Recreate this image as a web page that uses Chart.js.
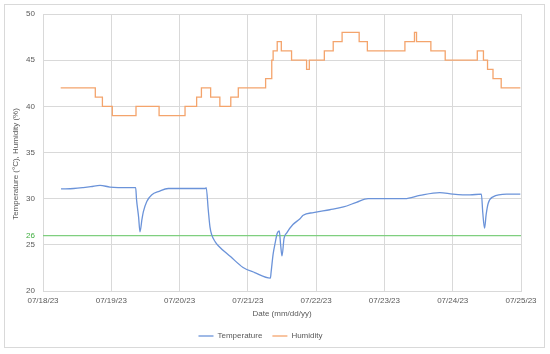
<!DOCTYPE html>
<html>
<head>
<meta charset="utf-8">
<script src="https://cdn.jsdelivr.net/npm/chart.js@4"></script>
<style>
  body { margin: 0; background: #fff; }
</style>
</head>
<body>
<canvas id="chart" width="550" height="354"></canvas>
<script>
// days since 07/18/23 00:00
const dateLabels = ["07/18/23", "07/19/23", "07/20/23", "07/21/23", "07/22/23", "07/23/23", "07/24/23", "07/25/23"];

const tempDays = [0.264, 0.45, 0.59, 0.70, 0.835, 0.98, 1.10, 1.357, 1.37, 1.40, 1.42, 1.45, 1.47, 1.52, 1.59, 1.70, 1.835,
  2.10, 2.38, 2.39, 2.42, 2.445, 2.47, 2.52, 2.567, 2.75, 2.93, 3.10, 3.33, 3.34, 3.37, 3.40, 3.43, 3.46, 3.48, 3.50,
  3.53, 3.57, 3.66, 3.76, 3.81, 3.96, 4.20, 4.40, 4.59, 4.76, 5.30, 5.52, 5.81, 6.00, 6.25, 6.42, 6.44, 6.466, 6.49,
  6.52, 6.59, 6.79, 6.99];
const tempValues = [31.05, 31.1, 31.2, 31.3, 31.45, 31.25, 31.2, 31.2, 29.9, 28.0, 26.4, 27.8, 28.6, 29.7, 30.4, 30.8, 31.1,
  31.1, 31.1, 31.2, 28.8, 26.95, 26.1, 25.35, 24.9, 23.7, 22.55, 22.0, 21.4, 22.0, 24.0, 25.2, 26.25, 26.5, 25.0, 23.8,
  25.7, 26.3, 27.2, 27.8, 28.2, 28.5, 28.8, 29.1, 29.6, 30.0, 30.0, 30.35, 30.65, 30.5, 30.4, 30.5, 28.5, 26.8, 28.3,
  29.5, 30.2, 30.5, 30.5];

const humDays = [0.259, 0.766, 0.87, 1.015, 1.362, 1.70, 2.08, 2.25, 2.32, 2.455, 2.59, 2.75, 2.86, 3.26, 3.35, 3.37,
  3.43, 3.49, 3.64, 3.86, 3.90, 4.12, 4.25, 4.38, 4.63, 4.75, 5.30, 5.44, 5.47, 5.68, 5.89, 6.36, 6.45, 6.51, 6.59,
  6.71, 6.99];
const humValues = [42, 41, 40, 39, 40, 39, 40, 41, 42, 41, 40, 41, 42, 43, 45, 46,
  47, 46, 45, 44, 45, 46, 47, 48, 47, 46, 47, 48, 47, 46, 45, 46, 45, 44, 43,
  42, 42];

const limitValue = 26;

const textColor = "#595959";
const gridColor = "#d9d9d9";

const toPoints = (xs, ys) => xs.map((x, i) => ({ x: x, y: ys[i] }));

const framePlugin = {
  id: "frame",
  beforeDraw(chart) {
    const ctx = chart.ctx;
    ctx.save();
    ctx.fillStyle = "#fff";
    ctx.fillRect(0, 0, chart.width, chart.height);
    ctx.strokeStyle = gridColor;
    ctx.lineWidth = 1;
    ctx.strokeRect(4.5, 4.5, 540, 343);
    ctx.restore();
  },
  afterDraw(chart) {
    const ctx = chart.ctx;
    const y = chart.scales.y;
    ctx.save();
    ctx.font = "8px 'Liberation Sans'";
    // limit label on the axis
    ctx.fillStyle = "#3fae3f";
    ctx.textAlign = "right";
    ctx.textBaseline = "middle";
    ctx.fillText(String(limitValue), y.right - 8, y.getPixelForValue(limitValue));
    // axis title
    ctx.fillStyle = textColor;
    ctx.translate(16, 164);
    ctx.rotate(-Math.PI / 2);
    ctx.textAlign = "center";
    ctx.fillText("Temperature (°C), Humidity (%)", 0, 0);
    ctx.restore();
  }
};

new Chart(document.getElementById("chart"), {
  type: "line",
  data: {
    datasets: [
      {
        label: "Temperature",
        data: toPoints(tempDays, tempValues),
        borderColor: "#6b93d9",
        backgroundColor: "#6b93d9",
        borderWidth: 1.3,
        pointRadius: 0,
        cubicInterpolationMode: "monotone"
      },
      {
        label: "Humidity",
        data: toPoints(humDays, humValues),
        borderColor: "#f4a46c",
        backgroundColor: "#f4a46c",
        borderWidth: 1.3,
        pointRadius: 0,
        stepped: "before"
      },
      {
        label: "limit",
        data: [{ x: 0, y: limitValue }, { x: 7, y: limitValue }],
        borderColor: "#7fcf7f",
        borderWidth: 1.3,
        pointRadius: 0
      }
    ]
  },
  options: {
    responsive: false,
    animation: false,
    layout: { padding: { top: 14, right: 29, bottom: 4, left: 0 } },
    plugins: {
      legend: {
        position: "bottom",
        labels: {
          color: textColor,
          font: { family: "'Liberation Sans'", size: 8 },
          usePointStyle: true,
          pointStyle: "line",
          pointStyleWidth: 15,
          padding: 10,
          filter: item => item.text !== "limit"
        }
      },
      tooltip: { enabled: false }
    },
    scales: {
      x: {
        type: "linear",
        min: 0,
        max: 7,
        afterFit: scale => { scale.height = 31; },
        ticks: {
          stepSize: 1,
          padding: 5,
          color: textColor,
          font: { family: "'Liberation Sans'", size: 8 },
          callback: value => dateLabels[value]
        },
        grid: { color: gridColor, drawTicks: false },
        border: { color: gridColor },
        title: {
          display: true,
          text: "Date (mm/dd/yy)",
          color: textColor,
          font: { family: "'Liberation Sans'", size: 8 },
          padding: { top: 0, bottom: 3 }
        }
      },
      y: {
        min: 20,
        max: 50,
        afterFit: scale => { scale.width = 43; },
        ticks: {
          stepSize: 5,
          padding: 8,
          color: textColor,
          font: { family: "'Liberation Sans'", size: 8 }
        },
        grid: { color: gridColor, drawTicks: false },
        border: { color: gridColor }
      }
    }
  },
  plugins: [framePlugin]
});
</script>
</body>
</html>
